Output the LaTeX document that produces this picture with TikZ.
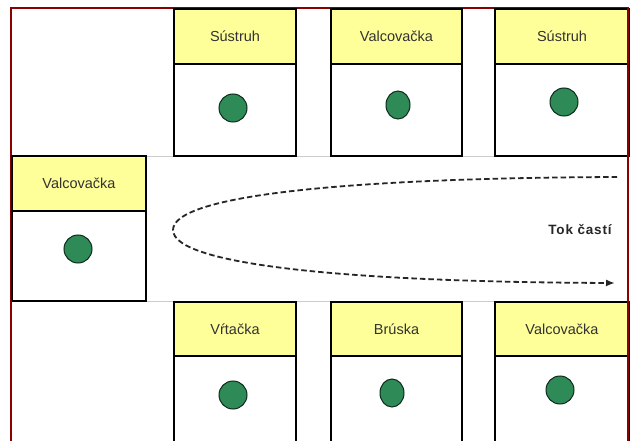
\documentclass[tikz,border=0pt]{standalone}
\usepackage{fontspec}
\setmainfont{Liberation Sans}
\usetikzlibrary{arrows.meta,shapes.geometric}
\definecolor{hdr}{RGB}{255,255,153}
\definecolor{dot}{RGB}{46,139,87}
\definecolor{frame}{RGB}{140,0,0}
\definecolor{txt}{RGB}{50,50,50}
\begin{document}
\begin{tikzpicture}[x=1pt,y=-1pt,
  header/.style={draw=black,line width=2pt,fill=hdr,anchor=north west,inner sep=0pt,
    font=\fontsize{14.5}{17}\selectfont,text=txt},
  body/.style={draw=black,line width=2pt,fill=white,anchor=north west,inner sep=0pt},
  machine/.style={draw=black!70!dot,line width=1pt,fill=dot,ellipse,inner sep=0pt},
  aisle/.style={draw=black!20,line width=1pt},
  flow/.style={draw=black!85,line width=1.8pt,dash pattern=on 5.5pt off 3pt,-{Latex[length=9pt,width=7pt]}}]
\useasboundingbox (0,0) rectangle (632,441);
\fill[white] (0,0) rectangle (632,441);
% outer frame
\draw[frame,line width=2.6pt] (11,460) -- (11,8) -- (628,8) -- (628,460);
% aisle lines
\coordinate (a1) at (147,157); \coordinate (a2) at (627,157);
\coordinate (b1) at (147,301); \coordinate (b2) at (627,301);
\draw[aisle] (a1) -- (a2);
\draw[aisle] (b1) -- (b2);
% top row
\node[header,minimum width=122,minimum height=55] (h1) at (173,8) {Sústruh};
\node[body,minimum width=122,minimum height=92] (g1) at (173,63) {};
\node[header,minimum width=131,minimum height=55] (h2) at (330,8) {Valcovačka};
\node[body,minimum width=131,minimum height=92] (g2) at (330,63) {};
\node[header,minimum width=134,minimum height=55] (h3) at (494,8) {Sústruh};
\node[body,minimum width=134,minimum height=92] (g3) at (494,63) {};
% left
\node[header,minimum width=134,minimum height=55] (h4) at (11,155) {Valcovačka};
\node[body,minimum width=134,minimum height=90] (g4) at (11,210) {};
% bottom row
\node[header,minimum width=122,minimum height=54] (h5) at (173,301) {Vŕtačka};
\node[body,minimum width=122,minimum height=100] (g5) at (173,355) {};
\node[header,minimum width=131,minimum height=54] (h6) at (330,301) {Brúska};
\node[body,minimum width=131,minimum height=100] (g6) at (330,355) {};
\node[header,minimum width=134,minimum height=54] (h7) at (494,301) {Valcovačka};
\node[body,minimum width=134,minimum height=100] (g7) at (494,355) {};
% redraw frame edges over boxes
\draw[frame,line width=2.6pt] (11,300) -- (11,460);
\draw[frame,line width=2.6pt] (628,8) -- (628,460);
% machines
\node[machine,minimum width=28,minimum height=28] (m1) at (233,108) {};
\node[machine,minimum width=24,minimum height=28] (m2) at (398,105) {};
\node[machine,minimum width=28,minimum height=28] (m3) at (564,102) {};
\node[machine,minimum width=28,minimum height=28] (m4) at (78,249) {};
\node[machine,minimum width=28,minimum height=28] (m5) at (233,395) {};
\node[machine,minimum width=24,minimum height=28] (m6) at (392,393) {};
\node[machine,minimum width=28,minimum height=28] (m7) at (560,390) {};
% flow
\coordinate (f0) at (617,177);
\coordinate (fv) at (173,230);
\coordinate (f1) at (615,283);
\draw[flow] (f0) .. controls (350,178) and (173,195) .. (fv)
  .. controls (173,265) and (350,282) .. (f1);
\node[font=\bfseries\fontsize{13.5}{15}\selectfont\addfontfeature{LetterSpace=6},text=black!85] (lbl) at (580,230) {Tok častí};
\end{tikzpicture}
\end{document}
